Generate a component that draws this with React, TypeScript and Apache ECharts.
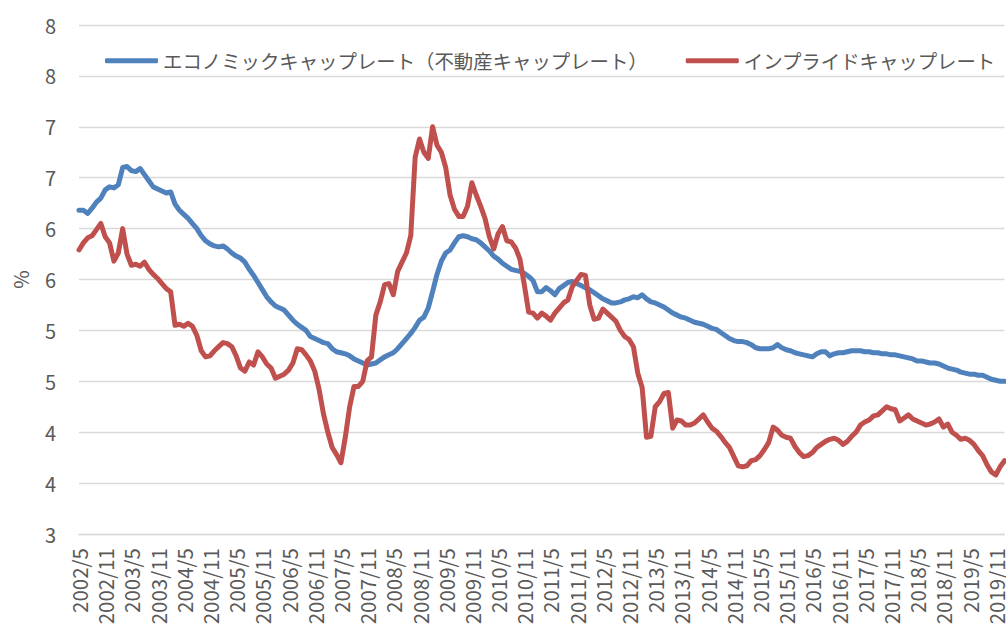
import React, { useEffect, useRef } from "react";
import * as echarts from "echarts";

// Monthly categories: 2002/5 .. 2020/1
const startYear = 2002;
const startMonth = 5;
const monthCount = 213;
const categories: string[] = [];
for (let k = 0; k < monthCount; k++) {
  const m = startMonth - 1 + k;
  categories.push(`${startYear + Math.floor(m / 12)}/${(m % 12) + 1}`);
}

const seriesNames = [
  "エコノミックキャップレート（不動産キャップレート）",
  "インプライドキャップレート",
];

const economicCapRate = [
  6.18, 6.18, 6.15, 6.2, 6.26, 6.3, 6.38, 6.41, 6.4, 6.43, 6.6, 6.61, 6.57, 6.56, 6.59, 6.53, 6.47, 6.41, 6.39, 6.37,
  6.35, 6.36, 6.24, 6.18, 6.14, 6.1, 6.05, 6.0, 5.93, 5.88, 5.85, 5.83, 5.82, 5.83, 5.8, 5.76, 5.73, 5.71, 5.67, 5.6,
  5.54, 5.47, 5.4, 5.33, 5.28, 5.24, 5.22, 5.2, 5.15, 5.1, 5.06, 5.03, 5.0, 4.94, 4.92, 4.9, 4.88, 4.87, 4.82, 4.79,
  4.78, 4.77, 4.75, 4.72, 4.7, 4.68, 4.66, 4.67, 4.68, 4.71, 4.74, 4.76, 4.78, 4.82, 4.87, 4.92, 4.97, 5.03, 5.1, 5.13,
  5.22, 5.38, 5.55, 5.68, 5.76, 5.79, 5.86, 5.92, 5.93, 5.92, 5.9, 5.89, 5.86, 5.82, 5.78, 5.73, 5.7, 5.66, 5.63, 5.6,
  5.59, 5.58, 5.56, 5.53, 5.49, 5.38, 5.38, 5.42, 5.39, 5.35, 5.41, 5.44, 5.47, 5.48, 5.46, 5.44, 5.42, 5.4, 5.37, 5.34,
  5.31, 5.29, 5.27, 5.27, 5.28, 5.3, 5.31, 5.33, 5.32, 5.35, 5.31, 5.28, 5.27, 5.25, 5.23, 5.2, 5.17, 5.15, 5.13, 5.12,
  5.1, 5.08, 5.07, 5.06, 5.04, 5.02, 5.01, 4.98, 4.95, 4.92, 4.9, 4.89, 4.89, 4.88, 4.86, 4.83, 4.82, 4.82, 4.82, 4.83,
  4.86, 4.83, 4.81, 4.8, 4.78, 4.77, 4.76, 4.75, 4.74, 4.77, 4.79, 4.79, 4.75, 4.77, 4.78, 4.78, 4.79, 4.8, 4.8, 4.8,
  4.79, 4.79, 4.78, 4.78, 4.77, 4.77, 4.76, 4.76, 4.75, 4.74, 4.73, 4.72, 4.7, 4.7, 4.69, 4.68, 4.68, 4.67, 4.65, 4.63,
  4.62, 4.61, 4.59, 4.58, 4.57, 4.57, 4.56, 4.56, 4.54, 4.52, 4.51, 4.5, 4.5,
];

const impliedCapRate = [
  5.79, 5.86, 5.91, 5.93, 5.99, 6.05, 5.92, 5.86, 5.68, 5.76, 6.0, 5.75, 5.64, 5.65, 5.63, 5.67, 5.6, 5.55, 5.51, 5.46,
  5.41, 5.38, 5.05, 5.06, 5.04, 5.07, 5.04, 4.95, 4.8, 4.74, 4.75, 4.8, 4.84, 4.88, 4.87, 4.84, 4.75, 4.63, 4.6, 4.69,
  4.66, 4.79, 4.74, 4.67, 4.63, 4.53, 4.55, 4.57, 4.61, 4.68, 4.82, 4.81, 4.76, 4.7, 4.6, 4.42, 4.18, 4.0, 3.85, 3.78,
  3.7, 3.95, 4.25, 4.45, 4.45, 4.5, 4.7, 4.74, 5.15, 5.28, 5.45, 5.46, 5.35, 5.58, 5.67, 5.76, 5.93, 6.7, 6.88, 6.75,
  6.69, 7.0, 6.82, 6.75, 6.6, 6.33, 6.19, 6.12, 6.12, 6.22, 6.45, 6.33, 6.22, 6.1, 5.92, 5.8, 5.95, 6.02, 5.88, 5.87,
  5.81, 5.7, 5.45, 5.18, 5.17, 5.12, 5.17, 5.14, 5.1, 5.17, 5.22, 5.27, 5.3, 5.43, 5.49, 5.55, 5.54, 5.25, 5.11, 5.12,
  5.21, 5.17, 5.13, 5.09, 5.0, 4.94, 4.91, 4.84, 4.58, 4.44, 3.95, 3.96, 4.25, 4.3, 4.38, 4.39, 4.04, 4.12, 4.11, 4.07,
  4.07, 4.09, 4.13, 4.17, 4.1, 4.04, 4.01, 3.96, 3.9, 3.85, 3.76, 3.67, 3.66, 3.67, 3.72, 3.73, 3.77, 3.83, 3.9, 4.05,
  4.02, 3.97, 3.95, 3.94, 3.86, 3.8, 3.76, 3.77, 3.8, 3.85, 3.88, 3.91, 3.93, 3.94, 3.92, 3.88, 3.91, 3.96, 4.0, 4.07,
  4.1, 4.12, 4.16, 4.17, 4.21, 4.25, 4.23, 4.22, 4.11, 4.14, 4.17, 4.13, 4.11, 4.09, 4.07, 4.08, 4.1, 4.13, 4.05, 4.08,
  4.0, 3.97, 3.93, 3.94, 3.92, 3.88, 3.82, 3.77, 3.68, 3.61, 3.58, 3.66, 3.72,
];

const yMin = 3;
const yMax = 8;
const yStep = 0.5;

const FONT = "'Noto Sans CJK JP', 'Noto Sans', sans-serif";
const TEXT = "#595959";

export default function App() {
  const ref = useRef<HTMLDivElement>(null);
  useEffect(() => {
    if (!ref.current) return;
    const chart = echarts.init(ref.current, null, { renderer: "svg" });
    chart.setOption({
      animation: false,
      backgroundColor: "#ffffff",
      textStyle: { fontFamily: FONT },
      legend: {
        left: 100,
        top: 46,
        width: 1000,
        padding: 5,
        itemGap: 38,
        itemWidth: 53,
        itemHeight: 5,
        icon: "roundRect",
        textStyle: { fontSize: 19.4, color: TEXT, fontFamily: FONT },
        data: seriesNames,
      },
      grid: { left: 79, right: -3, top: 25, bottom: 95 },
      xAxis: {
        type: "category",
        data: categories,
        boundaryGap: false,
        axisLine: { lineStyle: { color: "#d9d9d9", width: 1.3 } },
        axisTick: { show: false },
        axisLabel: {
          interval: 5,
          rotate: 90,
          margin: 14,
          fontSize: 20.5,
          color: TEXT,
          fontFamily: FONT,
        },
      },
      yAxis: {
        type: "value",
        min: yMin,
        max: yMax,
        interval: yStep,
        name: "%",
        nameLocation: "middle",
        nameGap: 49,
        nameRotate: 90,
        nameTextStyle: { fontSize: 20, color: TEXT, fontFamily: FONT },
        axisLine: { show: false },
        axisTick: { show: false },
        axisLabel: {
          margin: 23,
          fontSize: 20,
          color: TEXT,
          fontFamily: FONT,
          formatter: (v: number) => String(Math.round(v)),
        },
        splitLine: { lineStyle: { color: "#d9d9d9", width: 1.3 } },
      },
      series: [
        {
          name: seriesNames[0],
          type: "line",
          data: economicCapRate,
          showSymbol: false,
          symbol: "none",
          lineStyle: { color: "#4f81bd", width: 5, join: "round", cap: "round" },
          itemStyle: { color: "#4f81bd" },
        },
        {
          name: seriesNames[1],
          type: "line",
          data: impliedCapRate,
          showSymbol: false,
          symbol: "none",
          lineStyle: { color: "#c0504d", width: 5, join: "round", cap: "round" },
          itemStyle: { color: "#c0504d" },
        },
      ],
    });
    return () => chart.dispose();
  }, []);
  return (
    <div
      ref={ref}
      style={{ position: "fixed", left: 0, top: 0, width: 1006, height: 629, overflow: "hidden" }}
    />
  );
}
